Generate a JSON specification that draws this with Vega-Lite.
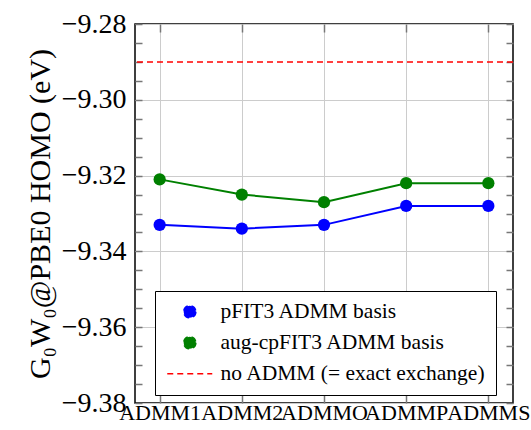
{
  "$schema": "https://vega.github.io/schema/vega-lite/v6.json",
  "autosize": {"type": "none"},
  "width": 378,
  "height": 379,
  "padding": {"left": 135, "top": 24, "right": 18, "bottom": 27},
  "config": {
    "font": "Liberation Serif",
    "view": {"stroke": "black", "strokeWidth": 1.5}
  },
  "datasets": {
    "series": [
      {"basis": "ADMM1", "series": "pFIT3 ADMM basis", "value": -9.333},
      {"basis": "ADMM2", "series": "pFIT3 ADMM basis", "value": -9.334},
      {"basis": "ADMMO", "series": "pFIT3 ADMM basis", "value": -9.333},
      {"basis": "ADMMP", "series": "pFIT3 ADMM basis", "value": -9.328},
      {"basis": "ADMMS", "series": "pFIT3 ADMM basis", "value": -9.328},
      {"basis": "ADMM1", "series": "aug-cpFIT3 ADMM basis", "value": -9.321},
      {"basis": "ADMM2", "series": "aug-cpFIT3 ADMM basis", "value": -9.325},
      {"basis": "ADMMO", "series": "aug-cpFIT3 ADMM basis", "value": -9.327},
      {"basis": "ADMMP", "series": "aug-cpFIT3 ADMM basis", "value": -9.322},
      {"basis": "ADMMS", "series": "aug-cpFIT3 ADMM basis", "value": -9.322}
    ],
    "exact": [
      {"series": "no ADMM (= exact exchange)", "value": -9.29}
    ]
  },
  "layer": [
    {
      "data": {"name": "series"},
      "mark": {"type": "line", "strokeWidth": 2},
      "encoding": {
        "x": {
          "field": "basis", "type": "nominal", "sort": null,
          "scale": {"type": "point", "padding": 0.3},
          "axis": {
            "orient": "bottom", "title": null, "labelAngle": 0, "labelFontSize": 22,
            "labelColor": "black", "labelOverlap": false, "labelBound": false,
            "labelPadding": 7, "tickSize": -8, "tickColor": "#777", "tickWidth": 1.5,
            "grid": true, "gridColor": "#cccccc", "gridWidth": 1, "domain": false
          }
        },
        "y": {
          "field": "value", "type": "quantitative",
          "scale": {"domain": [-9.38, -9.28], "zero": false, "nice": false},
          "axis": {
            "orient": "left",
            "values": [-9.38, -9.375, -9.37, -9.365, -9.36, -9.355, -9.35, -9.345, -9.34, -9.335, -9.33, -9.325, -9.32, -9.315, -9.31, -9.305, -9.3, -9.295, -9.29, -9.285, -9.28],
            "labelExpr": "abs(datum.value*50 - round(datum.value*50)) < 0.01 ? format(datum.value, '.2f') : ''",
            "labelFontSize": 28, "labelColor": "black", "labelPadding": 16,
            "tickSize": -7, "tickColor": "#777", "tickWidth": 1.5,
            "grid": true, "gridColor": "#cccccc", "gridWidth": 1,
            "gridOpacity": {"condition": {"test": "abs(datum.value*50 - round(datum.value*50)) < 0.01", "value": 1}, "value": 0},
            "domain": false,
            "title": "G₀W₀@PBE0 HOMO (eV)", "titleFontSize": 30, "titleFontWeight": "normal",
            "titleColor": "black", "titlePadding": 6
          }
        },
        "color": {
          "field": "series", "type": "nominal",
          "scale": {
            "domain": ["pFIT3 ADMM basis", "aug-cpFIT3 ADMM basis", "no ADMM (= exact exchange)"],
            "range": ["#0000ff", "#008000", "#ff0000"]
          },
          "legend": {
            "orient": "none", "legendX": 20, "legendY": 267,
            "title": null, "labelFontSize": 21.5, "labelColor": "black", "labelLimit": 0,
            "strokeColor": "black", "fillColor": "white", "padding": 10,
            "cornerRadius": 0, "symbolSize": 2025, "labelOffset": 20, "symbolOffset": 14, "rowPadding": 8,
            "encode": {
              "symbols": {
                "update": {
                  "shape": {"signal": "datum.value == 'no ADMM (= exact exchange)' ? 'stroke' : 'circle'"},
                  "size": {"signal": "datum.value == 'no ADMM (= exact exchange)' ? 2025 : 150"},
                  "stroke": {"signal": "datum.value == 'no ADMM (= exact exchange)' ? '#ff0000' : 'transparent'"},
                  "strokeDash": {"value": [6, 4]},
                  "strokeWidth": {"value": 1.5},
                  "fill": {"signal": "datum.value == 'no ADMM (= exact exchange)' ? 'transparent' : scale('color', datum.value)"},
                  "opacity": {"value": 1}
                }
              }
            }
          }
        }
      }
    },
    {
      "data": {"name": "series"},
      "mark": {"type": "point", "filled": true, "size": 150, "opacity": 1},
      "encoding": {
        "x": {"field": "basis", "type": "nominal", "sort": null, "axis": null},
        "y": {"field": "value", "type": "quantitative", "axis": null},
        "color": {"field": "series", "type": "nominal"}
      }
    },
    {
      "data": {"name": "exact"},
      "mark": {"type": "rule", "strokeDash": [6, 4], "strokeWidth": 1.5},
      "encoding": {
        "y": {"field": "value", "type": "quantitative", "axis": null},
        "color": {"field": "series", "type": "nominal"}
      }
    },
    {
      "data": {"name": "series"},
      "mark": {"type": "point", "opacity": 0},
      "encoding": {
        "x": {
          "field": "basis", "type": "nominal", "sort": null,
          "axis": {"orient": "top", "title": null, "labels": false, "tickSize": -8, "tickColor": "#777", "tickWidth": 1.5, "grid": false, "domain": false}
        },
        "y": {
          "field": "value", "type": "quantitative",
          "axis": {
            "orient": "right", "title": null, "labels": false,
            "values": [-9.38, -9.375, -9.37, -9.365, -9.36, -9.355, -9.35, -9.345, -9.34, -9.335, -9.33, -9.325, -9.32, -9.315, -9.31, -9.305, -9.3, -9.295, -9.29, -9.285, -9.28],
            "tickSize": -7, "tickColor": "#777", "tickWidth": 1.5, "grid": false, "domain": false
          }
        }
      }
    }
  ],
  "resolve": {"axis": {"x": "independent", "y": "independent"}}
}
